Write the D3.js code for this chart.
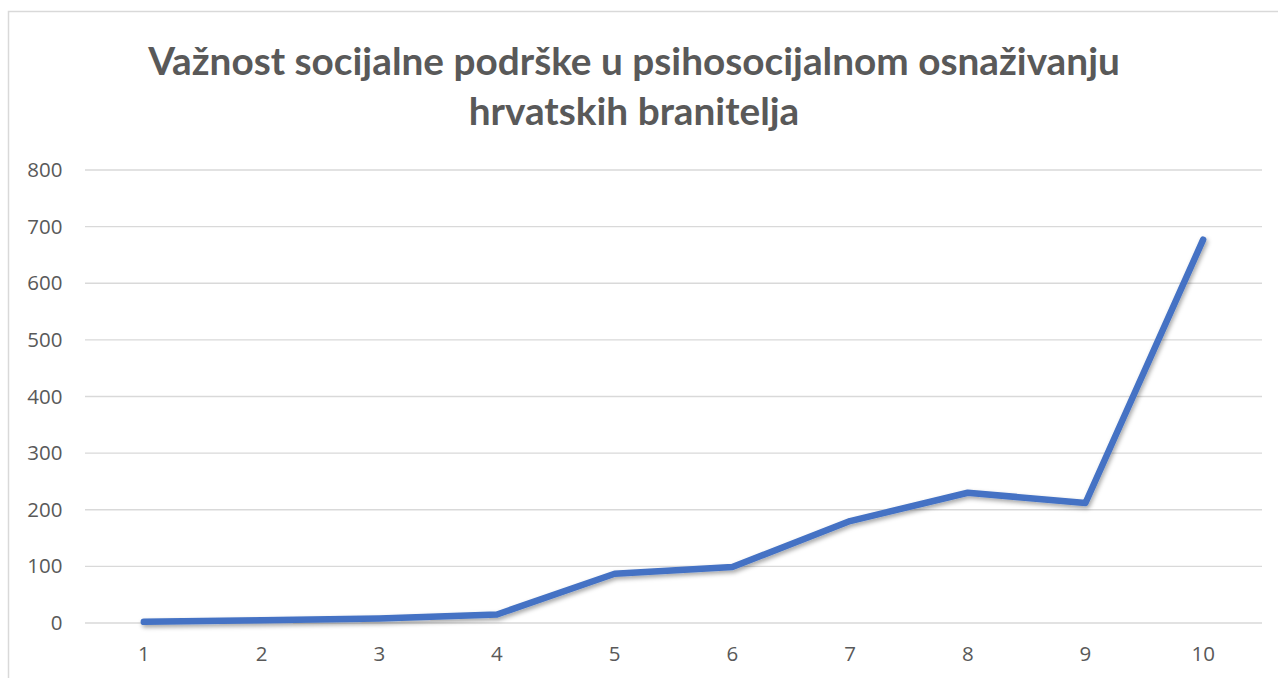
<!DOCTYPE html>
<html><head><meta charset="utf-8">
<script src="https://cdnjs.cloudflare.com/ajax/libs/d3/7.8.5/d3.min.js"></script>
<style>html,body{margin:0;padding:0;background:#fff;overflow:hidden}</style>
</head><body><svg id="c" width="1278" height="678"></svg>
<script>
const titleLines = ["Važnost socijalne podrške u psihosocijalnom osnaživanju", "hrvatskih branitelja"];
const categories = ["1","2","3","4","5","6","7","8","9","10"];
const values = [2, 5, 8, 15, 87, 99, 180, 230, 212, 677];
const yTicks = [0,100,200,300,400,500,600,700,800];

(function(){
const svg = d3.select("#c");
const titleFont = "Lato, Carlito, 'Open Sans', sans-serif";
const axisFont = "'Open Sans', 'Noto Sans', sans-serif";
svg.append("rect").attr("x",8.5).attr("y",11.5).attr("width",1300).attr("height",700)
  .attr("fill","#fff").attr("stroke","#d9d9d9").attr("stroke-width",1.5);

const pL = 85, pR = 1262, pT = 170, pB = 623;
const x = d3.scaleBand().domain(categories).range([pL,pR]);
const y = d3.scaleLinear().domain([0,800]).range([pB,pT]);

const defs = svg.append("defs");
const f = defs.append("filter").attr("id","sh").attr("x","-10%").attr("y","-10%").attr("width","120%").attr("height","130%");
f.append("feDropShadow").attr("dx",1.5).attr("dy",2.5).attr("stdDeviation",2).attr("flood-color","#000").attr("flood-opacity",0.35);

svg.append("g").selectAll("line").data(yTicks).join("line")
  .attr("x1",pL).attr("x2",pR).attr("y1",d=>y(d)).attr("y2",d=>y(d))
  .attr("stroke","#d9d9d9").attr("stroke-width",1.3);

const yAxis = d3.axisLeft(y).tickValues(yTicks).tickSize(0).tickPadding(0);
const gy = svg.append("g").attr("transform",`translate(62.5,0)`).call(yAxis);
gy.select(".domain").remove();
gy.selectAll("text").attr("font-family",axisFont).attr("font-size",20.5).attr("fill","#595959");

const xAxis = d3.axisBottom(x).tickSize(0).tickPadding(0);
const gx = svg.append("g").attr("transform",`translate(0,${pB+23})`).call(xAxis);
gx.select(".domain").remove();
gx.selectAll("text").attr("font-family",axisFont).attr("font-size",20.5).attr("fill","#595959");

const line = d3.line().x((d,i)=>x(categories[i])+x.bandwidth()/2).y(d=>y(d));
svg.append("path").datum(values).attr("d",line).attr("fill","none")
  .attr("stroke","#4472C4").attr("stroke-width",6.5).attr("stroke-linecap","round").attr("stroke-linejoin","round")
  .attr("filter","url(#sh)");

const t = svg.append("g");
const ys = [75, 125];
titleLines.forEach((s,i)=>{
  t.append("text").attr("x",634).attr("y",ys[i]).attr("text-anchor","middle")
   .attr("font-family",titleFont).attr("font-weight","bold").attr("font-size",36).attr("fill","#595959").text(s);
});
const first = t.select("text").node();
const w = first.getComputedTextLength();
t.selectAll("text").attr("font-size", 36 * 972 / w);
})();
</script></body></html>
